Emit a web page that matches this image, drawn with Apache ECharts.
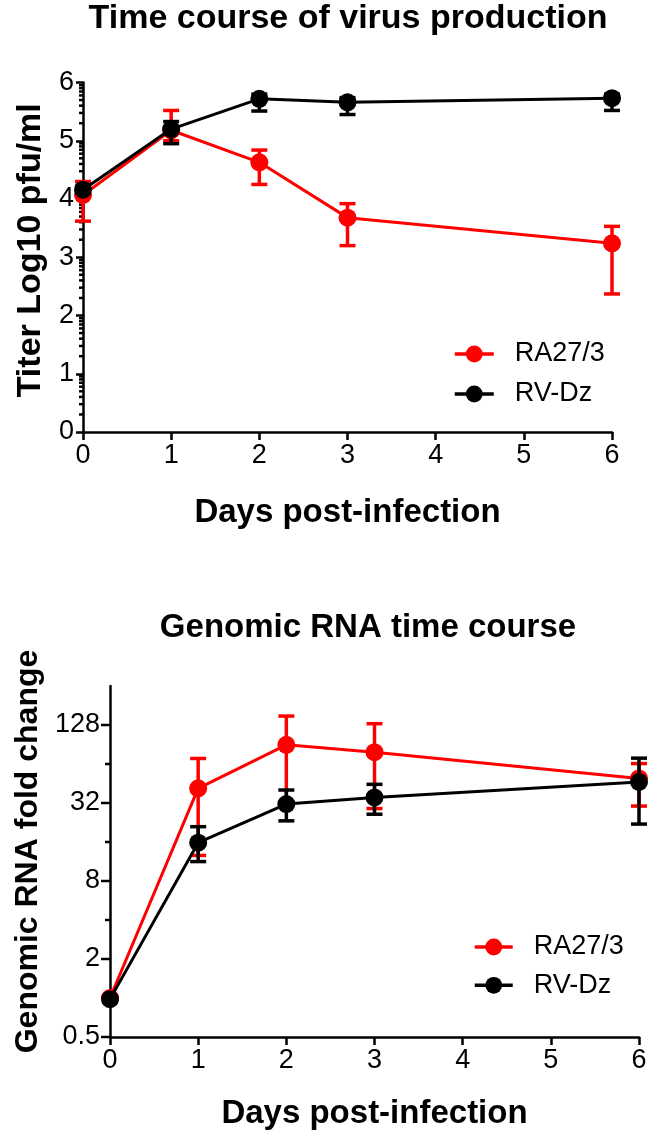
<!DOCTYPE html>
<html><head><meta charset="utf-8">
<script src="https://cdn.jsdelivr.net/npm/echarts@6/dist/echarts.min.js"></script>
<style>html,body{margin:0;padding:0;background:#fff}#c{width:652px;height:1139px}</style>
</head><body><div id="c"></div>
<script>
// ---------- data ----------
const days = [0, 1, 2, 3, 6];
const seriesNames = ['RA27/3', 'RV-Dz'];
const titles = ['Time course of virus production', 'Genomic RNA time course'];
const xName = 'Days post-infection';
const yNames = ['Titer Log10 pfu/ml', 'Genomic RNA fold change'];

// Top panel: titer (log10 pfu/ml)
const titerRA     = [4.07, 5.18, 4.63, 3.68, 3.24];
const titerRALow  = [3.62, 5.00, 4.25, 3.20, 2.37];
const titerRAHigh = [4.30, 5.52, 4.84, 3.92, 3.53];
const titerDZ     = [4.16, 5.20, 5.72, 5.66, 5.73];
const titerDZLow  = [4.10, 4.95, 5.51, 5.45, 5.52];
const titerDZHigh = [4.22, 5.33, 5.80, 5.74, 5.80];

// Bottom panel: genomic RNA fold change
const rnaRA     = [1.00, 41.5, 90, 79, 49.5];
const rnaRALow  = [0.95, 12.6, 32.7, 29, 30.3];
const rnaRAHigh = [1.05, 70.6, 150, 131, 64.5];
const rnaDZ     = [0.98, 15.8, 31.4, 35.3, 46.5];
const rnaDZLow  = [0.93, 11.3, 23.3, 26.2, 22];
const rnaDZHigh = [1.03, 21, 40.3, 44.6, 71];

// ---------- helpers ----------
const FONT = "'Liberation Sans', Arial, Helvetica, sans-serif";
const RED = '#ff0000', BLACK = '#000000';
const pts = (ys) => days.map((d, i) => [d, ys[i]]);
const errs = (lo, hi) => days.map((d, i) => [d, lo[i], hi[i]]);

function errRender(color) {
  return function (params, api) {
    const x = api.value(0);
    const pLo = api.coord([x, api.value(1)]);
    const pHi = api.coord([x, api.value(2)]);
    const w = 8;
    const st = { stroke: color, lineWidth: 3.5 };
    return { type: 'group', children: [
      { type: 'line', shape: { x1: pLo[0], y1: pLo[1], x2: pHi[0], y2: pHi[1] }, style: st },
      { type: 'line', shape: { x1: pLo[0] - w, y1: pLo[1], x2: pLo[0] + w, y2: pLo[1] }, style: st },
      { type: 'line', shape: { x1: pHi[0] - w, y1: pHi[1], x2: pHi[0] + w, y2: pHi[1] }, style: st }
    ]};
  };
}

// tick decorations (log-spaced minor ticks on the top axis, alternating ticks on the bottom log2 axis)
const topMinor = [];
for (let n = 0; n < 6; n++) for (let k = 2; k <= 9; k++) topMinor.push([0, n + Math.log10(k), 4]);
const bottomTicks = [];
for (let e = -1; e <= 7; e++) bottomTicks.push([0, Math.pow(2, e), (e % 2 !== 0) ? 9 : 5]);

function tickRender(params, api) {
  const p = api.coord([api.value(0), api.value(1)]);
  const len = api.value(2);
  return { type: 'line', shape: { x1: p[0] - len, y1: p[1], x2: p[0], y2: p[1] },
           style: { stroke: '#000', lineWidth: 2.5 } };
}

const axisLine = { show: true, lineStyle: { color: '#000', width: 2.5 } };
const labelStyle = { fontSize: 27, color: '#000', fontFamily: FONT };
const nameStyleX = { fontSize: 33, fontWeight: 'bold', color: '#000', fontFamily: FONT };

function lineSeries(name, data, color, xi, yi, z) {
  return { type: 'line', name: name, xAxisIndex: xi, yAxisIndex: yi, data: data,
    symbol: 'circle', symbolSize: 18, z: z,
    itemStyle: { color: color }, lineStyle: { color: color, width: 3 }, emphasis: { disabled: true } };
}
function errSeries(data, color, xi, yi, z) {
  return { type: 'custom', xAxisIndex: xi, yAxisIndex: yi, data: data, z: z,
    renderItem: errRender(color), encode: { x: 0, y: [1, 2] }, silent: true };
}

const legendText = { fontSize: 27, color: '#000', fontFamily: FONT, lineHeight: 30, padding: [0, 0, 0, 16] };

const option = {
  animation: false,
  backgroundColor: '#fff',
  textStyle: { fontFamily: FONT },
  graphic: [
    { type: 'text', x: 348, y: 19, style: { text: titles[0], font: 'bold 34px ' + FONT, fill: '#000', textAlign: 'center', textVerticalAlign: 'middle' } },
    { type: 'text', x: 368, y: 628, style: { text: titles[1], font: 'bold 33px ' + FONT, fill: '#000', textAlign: 'center', textVerticalAlign: 'middle' } }
  ],
  grid: [
    { left: 83, top: 82.5, width: 529, height: 349.5 },
    { left: 110, top: 686, width: 529, height: 351 }
  ],
  legend: [
    { data: seriesNames, orient: 'vertical', left: 448, top: 334, itemWidth: 39, itemHeight: 21, itemGap: 10,
      lineStyle: { width: 3.5 }, textStyle: legendText, selectedMode: false },
    { data: seriesNames, orient: 'vertical', left: 468, top: 927, itemWidth: 38, itemHeight: 21, itemGap: 8.3,
      lineStyle: { width: 3.5 }, textStyle: legendText, selectedMode: false }
  ],
  xAxis: [
    { gridIndex: 0, type: 'value', min: 0, max: 6, interval: 1, axisLine: axisLine,
      axisTick: { show: true, length: 8, lineStyle: { width: 2.5, color: '#000' } },
      axisLabel: Object.assign({ margin: 10 }, labelStyle), splitLine: { show: false },
      name: xName, nameLocation: 'middle', nameGap: 64, nameTextStyle: nameStyleX },
    { gridIndex: 1, type: 'value', min: 0, max: 6, interval: 1, axisLine: axisLine,
      axisTick: { show: true, length: 8, lineStyle: { width: 2.5, color: '#000' } },
      axisLabel: Object.assign({ margin: 10 }, labelStyle), splitLine: { show: false },
      name: xName, nameLocation: 'middle', nameGap: 60, nameTextStyle: nameStyleX }
  ],
  yAxis: [
    { gridIndex: 0, type: 'value', min: 0, max: 6, interval: 1, axisLine: axisLine,
      axisTick: { show: true, length: 7, lineStyle: { width: 2.5, color: '#000' } },
      axisLabel: Object.assign({ margin: 9 }, labelStyle), splitLine: { show: false },
      name: yNames[0], nameLocation: 'middle', nameGap: 31,
      nameTextStyle: { fontSize: 34, fontWeight: 'bold', color: '#000', fontFamily: FONT, padding: [0, 0, 0, 14] } },
    { gridIndex: 1, type: 'log', logBase: 2, min: 0.5, max: 256, axisLine: axisLine,
      axisTick: { show: false },
      axisLabel: Object.assign({ margin: 10, formatter: function (v) {
        const e = Math.round(Math.log2(v));
        return (Math.abs(e % 2) === 1) ? String(v) : '';
      } }, labelStyle), splitLine: { show: false }, minorTick: { show: false },
      name: yNames[1], nameLocation: 'middle', nameGap: 58,
      nameTextStyle: { fontSize: 32, fontWeight: 'bold', color: '#000', fontFamily: FONT, padding: [0, 0, 0, 20] } }
  ],
  series: [
    { type: 'custom', xAxisIndex: 0, yAxisIndex: 0, data: topMinor, renderItem: tickRender, silent: true, z: 1, encode: { x: 0, y: 1 } },
    { type: 'custom', xAxisIndex: 1, yAxisIndex: 1, data: bottomTicks, renderItem: tickRender, silent: true, z: 1, encode: { x: 0, y: 1 } },
    errSeries(errs(titerRALow, titerRAHigh), RED, 0, 0, 2),
    lineSeries(seriesNames[0], pts(titerRA), RED, 0, 0, 3),
    errSeries(errs(titerDZLow, titerDZHigh), BLACK, 0, 0, 4),
    lineSeries(seriesNames[1], pts(titerDZ), BLACK, 0, 0, 5),
    errSeries(errs(rnaRALow, rnaRAHigh), RED, 1, 1, 2),
    lineSeries(seriesNames[0], pts(rnaRA), RED, 1, 1, 3),
    errSeries(errs(rnaDZLow, rnaDZHigh), BLACK, 1, 1, 4),
    lineSeries(seriesNames[1], pts(rnaDZ), BLACK, 1, 1, 5)
  ]
};
const chart = echarts.init(document.getElementById('c'), null, { renderer: 'canvas' });
chart.setOption(option);
</script></body></html>
